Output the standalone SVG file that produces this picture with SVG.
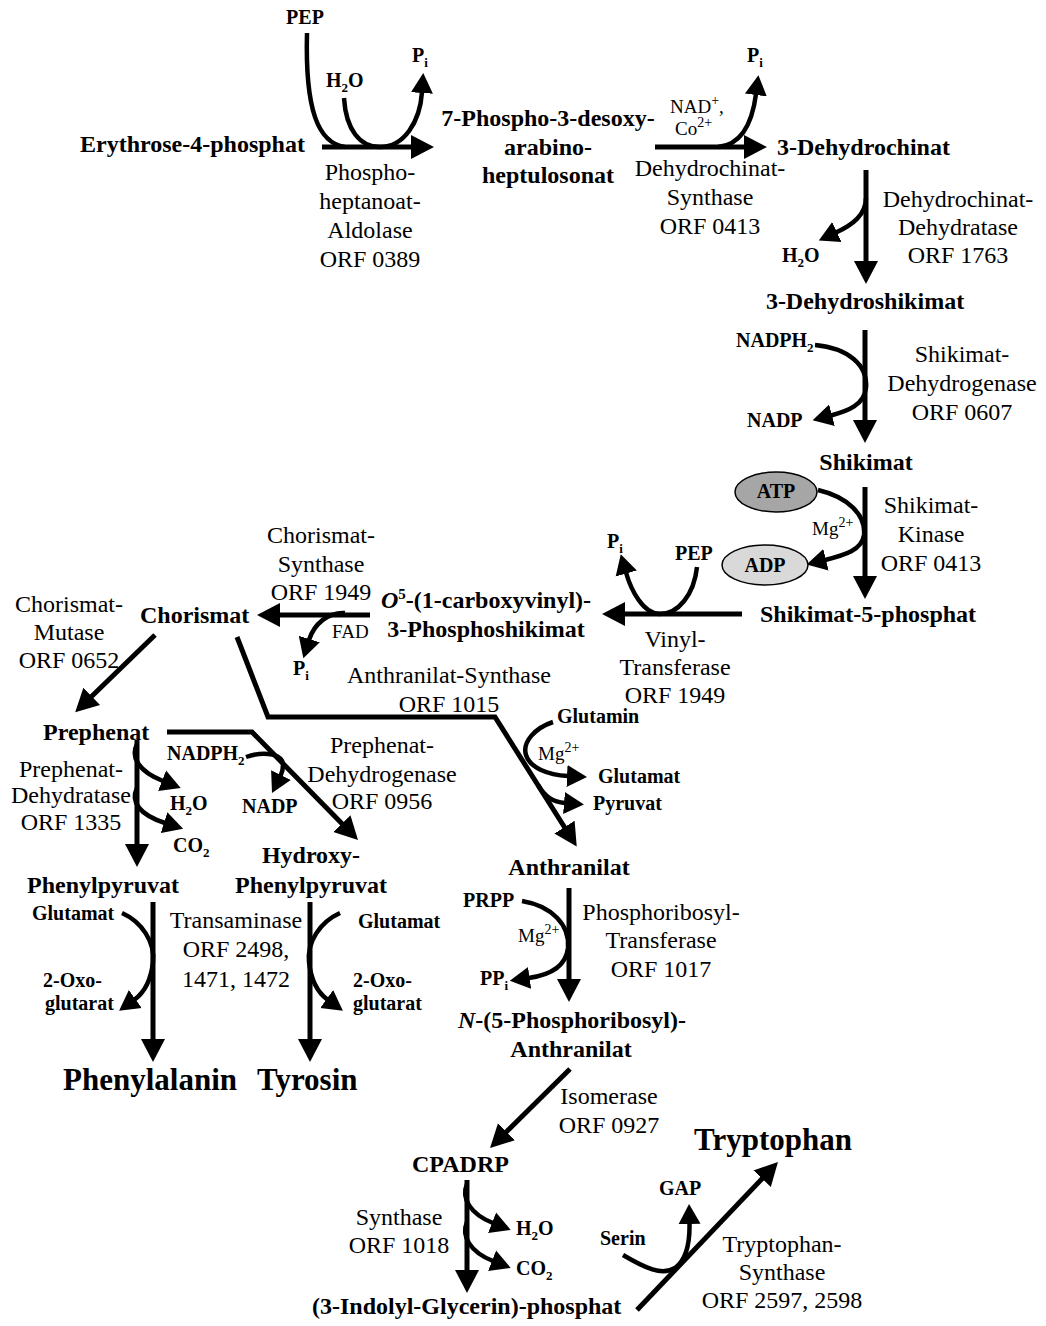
<svg xmlns="http://www.w3.org/2000/svg" width="1046" height="1326" viewBox="0 0 1046 1326">
<style>
text { font-family: 'Liberation Serif', 'Times New Roman', serif; fill: #000; }
.c { font-size: 24px; font-weight: bold; }
.cm { font-size: 24px; font-weight: bold; text-anchor: middle; }
.e { font-size: 24px; text-anchor: middle; }
.s { font-size: 20px; font-weight: bold; }
.sm { font-size: 20px; font-weight: bold; text-anchor: middle; }
.r { font-size: 19px; }
.big { font-size: 31px; font-weight: bold; }
.sub { font-size: 13px; }
.sup { font-size: 14px; }
.ln { fill: none; stroke: #000; stroke-width: 5; }
.cv { fill: none; stroke: #000; stroke-width: 4.5; }
.main { marker-end: url(#head); }
.side { marker-end: url(#tip); }
</style>
<defs>
  <marker id="head" markerUnits="userSpaceOnUse" markerWidth="24" markerHeight="26" viewBox="0 0 24 26" refX="1" refY="13" orient="auto">
    <path d="M0,1 L23,13 L0,25 z" fill="#000"/>
  </marker>
  <marker id="tip" markerUnits="userSpaceOnUse" markerWidth="21" markerHeight="24" viewBox="0 0 21 24" refX="1" refY="12" orient="auto">
    <path d="M0,1 L20,12 L0,23 z" fill="#000"/>
  </marker>
</defs>
<rect width="1046" height="1326" fill="#fff"/>

<!-- connectors: main reaction arrows and cofactor side arrows -->
<g id="connectors">
  <!-- Erythrose-4-phosphat -> 7-Phospho-3-desoxy-arabino-heptulosonat -->
  <path class="ln main" d="M322,147 H412"/>
  <path class="cv" d="M307,33 C305,110 318,143 345,147"/>
  <path class="cv side" d="M344,98 C346,130 360,147 380,147 C404,147 420,122 422,92"/>
  <!-- -> 3-Dehydrochinat -->
  <path class="ln main" d="M655,147 H745"/>
  <path class="cv side" d="M718,147 C740,145 752,125 756,94"/>
  <!-- -> 3-Dehydroshikimat -->
  <path class="ln main" d="M866,170 V262"/>
  <path class="cv side" d="M866,198 C866,215 852,225 836,232.5"/>
  <!-- -> Shikimat -->
  <path class="ln main" d="M865,330 V421"/>
  <path class="cv side" d="M815,345 C848,348 868,365 866,388 C864,405 848,411 831,415.5"/>
  <!-- -> Shikimat-5-phosphat -->
  <path class="ln main" d="M865,487 V577"/>
  <path class="cv side" d="M818,490 C848,497 866,515 864,535 C862,550 845,555 825,560"/>
  <!-- -> O5-(1-carboxyvinyl)-3-Phosphoshikimat -->
  <path class="ln main" d="M742,614 H624"/>
  <path class="cv side" d="M697,567 C694,595 678,614 660,614 C643,614 631,590 626,572.5"/>
  <!-- -> Chorismat -->
  <path class="ln main" d="M370,615 H279"/>
  <path class="cv side" d="M345,613 C328,612 314,624 309,640"/>
  <!-- Chorismat -> Prephenat -->
  <path class="ln main" d="M155,635 L91,697"/>
  <!-- Chorismat -> Anthranilat -->
  <path class="ln main" d="M237,637 L268,717 L495,717 L565,828"/>
  <path class="cv side" d="M553,722 C535,728 522,742 526,755 C530,768 548,775 568,776"/>
  <path class="cv side" d="M538,785 C545,797 553,802 565,803"/>
  <!-- Prephenat -> Hydroxy-Phenylpyruvat -->
  <path class="ln main" d="M167,732 L252,732 L342.6,824.3"/>
  <path class="cv side" d="M246,757 C266,750 284,755 283,765 C283,770 282,773 280.5,776"/>
  <!-- Prephenat -> Phenylpyruvat -->
  <path class="ln main" d="M137,740 V845"/>
  <path class="cv side" d="M137,744 C130,758 140,772 163,781"/>
  <path class="cv side" d="M137,788 C130,802 140,815 165,823"/>
  <!-- Phenylpyruvat -> Phenylalanin -->
  <path class="ln main" d="M153,902 V1040"/>
  <path class="cv side" d="M122,913 C142,922 155,942 153,962 C151,980 145,992 134.5,999.6"/>
  <!-- Hydroxy-Phenylpyruvat -> Tyrosin -->
  <path class="ln main" d="M310,902 V1040"/>
  <path class="cv side" d="M340,913 C320,922 307,942 309,962 C311,980 317,992 327.5,999.6"/>
  <!-- Anthranilat -> N-(5-Phosphoribosyl)-Anthranilat -->
  <path class="ln main" d="M569,888 V980"/>
  <path class="cv side" d="M522,901 C552,906 570,925 568,948 C566,966 550,975 528.6,978"/>
  <!-- -> CPADRP -->
  <path class="ln main" d="M570,1069 L505.7,1132.5"/>
  <!-- CPADRP -> (3-Indolyl-Glycerin)-phosphat -->
  <path class="ln main" d="M467,1180 V1271"/>
  <path class="cv side" d="M467,1184 C461,1198 470,1214 493,1223"/>
  <path class="cv side" d="M467,1222 C461,1236 470,1252 493,1261"/>
  <!-- -> Tryptophan -->
  <path class="ln main" d="M637,1310 L762.8,1178"/>
  <path class="cv side" d="M623,1255 C645,1268 662,1276 675,1268 C686,1260 690,1245 689.5,1223"/>
</g>

<!-- pathway compounds -->
<g id="erythrose-4-phosphat"><text class="c" x="80" y="152">Erythrose-4-phosphat</text></g>
<g id="phospho-desoxy-heptulosonat">
  <text class="cm" x="548" y="126">7-Phospho-3-desoxy-</text>
  <text class="cm" x="548" y="155">arabino-</text>
  <text class="cm" x="548" y="183">heptulosonat</text>
</g>
<g id="dehydrochinat"><text class="c" x="777" y="155">3-Dehydrochinat</text></g>
<g id="dehydroshikimat"><text class="cm" x="865" y="309">3-Dehydroshikimat</text></g>
<g id="shikimat"><text class="cm" x="866" y="470">Shikimat</text></g>
<g id="shikimat-5-phosphat"><text class="c" x="760" y="622">Shikimat-5-phosphat</text></g>
<g id="carboxyvinyl-phosphoshikimat">
  <text class="cm" x="486" y="608"><tspan font-style="italic">O</tspan><tspan font-size="15" dy="-9">5</tspan><tspan dy="9">-(1-carboxyvinyl)-</tspan></text>
  <text class="cm" x="486" y="637">3-Phosphoshikimat</text>
</g>
<g id="chorismat"><text class="c" x="140" y="623">Chorismat</text></g>
<g id="prephenat"><text class="c" x="43" y="740">Prephenat</text></g>
<g id="phenylpyruvat"><text class="c" x="27" y="893">Phenylpyruvat</text></g>
<g id="hydroxy-phenylpyruvat">
  <text class="cm" x="311" y="863">Hydroxy-</text>
  <text class="cm" x="311" y="893">Phenylpyruvat</text>
</g>
<g id="phenylalanin"><text class="big" x="63" y="1090">Phenylalanin</text></g>
<g id="tyrosin"><text class="big" x="257" y="1090">Tyrosin</text></g>
<g id="anthranilat"><text class="cm" x="569" y="875">Anthranilat</text></g>
<g id="phosphoribosyl-anthranilat">
  <text class="cm" x="572" y="1028"><tspan font-style="italic">N</tspan>-(5-Phosphoribosyl)-</text>
  <text class="cm" x="571" y="1057">Anthranilat</text>
</g>
<g id="cpadrp"><text class="c" x="412" y="1172">CPADRP</text></g>
<g id="indolyl-glycerin-phosphat"><text class="c" x="312" y="1314">(3-Indolyl-Glycerin)-phosphat</text></g>
<g id="tryptophan"><text class="big" x="694" y="1150">Tryptophan</text></g>

<!-- enzymes -->
<g id="enz-aldolase">
  <text class="e" x="370" y="180">Phospho-</text>
  <text class="e" x="370" y="209">heptanoat-</text>
  <text class="e" x="370" y="238">Aldolase</text>
  <text class="e" x="370" y="267">ORF 0389</text>
</g>
<g id="enz-dhq-synthase">
  <text class="e" x="710" y="176">Dehydrochinat-</text>
  <text class="e" x="710" y="205">Synthase</text>
  <text class="e" x="710" y="234">ORF 0413</text>
</g>
<g id="enz-dhq-dehydratase">
  <text class="e" x="958" y="207">Dehydrochinat-</text>
  <text class="e" x="958" y="235">Dehydratase</text>
  <text class="e" x="958" y="263">ORF 1763</text>
</g>
<g id="enz-shikimat-dh">
  <text class="e" x="962" y="362">Shikimat-</text>
  <text class="e" x="962" y="391">Dehydrogenase</text>
  <text class="e" x="962" y="420">ORF 0607</text>
</g>
<g id="enz-shikimat-kinase">
  <text class="e" x="931" y="513">Shikimat-</text>
  <text class="e" x="931" y="542">Kinase</text>
  <text class="e" x="931" y="571">ORF 0413</text>
</g>
<g id="enz-vinyltransferase">
  <text class="e" x="675" y="647">Vinyl-</text>
  <text class="e" x="675" y="675">Transferase</text>
  <text class="e" x="675" y="703">ORF 1949</text>
</g>
<g id="enz-chorismat-synthase">
  <text class="e" x="321" y="543">Chorismat-</text>
  <text class="e" x="321" y="572">Synthase</text>
  <text class="e" x="321" y="600">ORF 1949</text>
</g>
<g id="enz-chorismat-mutase">
  <text class="e" x="69" y="612">Chorismat-</text>
  <text class="e" x="69" y="640">Mutase</text>
  <text class="e" x="69" y="668">ORF 0652</text>
</g>
<g id="enz-anthranilat-synthase">
  <text class="e" x="449" y="683">Anthranilat-Synthase</text>
  <text class="e" x="449" y="712">ORF 1015</text>
</g>
<g id="enz-prephenat-dh">
  <text class="e" x="382" y="753">Prephenat-</text>
  <text class="e" x="382" y="782">Dehydrogenase</text>
  <text class="e" x="382" y="809">ORF 0956</text>
</g>
<g id="enz-prephenat-dehydratase">
  <text class="e" x="71" y="777">Prephenat-</text>
  <text class="e" x="71" y="803">Dehydratase</text>
  <text class="e" x="71" y="830">ORF 1335</text>
</g>
<g id="enz-transaminase">
  <text class="e" x="236" y="928">Transaminase</text>
  <text class="e" x="236" y="957">ORF 2498,</text>
  <text class="e" x="236" y="987">1471, 1472</text>
</g>
<g id="enz-prt">
  <text class="e" x="661" y="920">Phosphoribosyl-</text>
  <text class="e" x="661" y="948">Transferase</text>
  <text class="e" x="661" y="977">ORF 1017</text>
</g>
<g id="enz-isomerase">
  <text class="e" x="609" y="1104">Isomerase</text>
  <text class="e" x="609" y="1133">ORF 0927</text>
</g>
<g id="enz-igp-synthase">
  <text class="e" x="399" y="1225">Synthase</text>
  <text class="e" x="399" y="1253">ORF 1018</text>
</g>
<g id="enz-trp-synthase">
  <text class="e" x="782" y="1252">Tryptophan-</text>
  <text class="e" x="782" y="1280">Synthase</text>
  <text class="e" x="782" y="1308">ORF 2597, 2598</text>
</g>

<!-- cofactors, co-substrates and by-products -->
<g id="cofactors">
  <text class="sm" x="305" y="24">PEP</text>
  <text class="s" x="326" y="87">H<tspan class="sub" dy="5">2</tspan><tspan dy="-5">O</tspan></text>
  <text class="s" x="412" y="62">P<tspan class="sub" dy="5">i</tspan></text>
  <text class="s" x="747" y="62">P<tspan class="sub" dy="5">i</tspan></text>
  <text class="r" x="670" y="113">NAD<tspan class="sup" dy="-8">+</tspan><tspan dy="8">,</tspan></text>
  <text class="r" x="675" y="135">Co<tspan class="sup" dy="-8">2+</tspan></text>
  <text class="s" x="782" y="262">H<tspan class="sub" dy="5">2</tspan><tspan dy="-5">O</tspan></text>
  <text class="s" x="736" y="347">NADPH<tspan class="sub" dy="5">2</tspan></text>
  <text class="s" x="747" y="427">NADP</text>
  <g id="atp">
    <ellipse cx="776" cy="492" rx="41" ry="20" fill="#a6a6a6" stroke="#000" stroke-width="1.5"/>
    <text class="sm" x="776" y="498">ATP</text>
  </g>
  <g id="adp">
    <ellipse cx="765" cy="565" rx="43" ry="20" fill="#d9d9d9" stroke="#000" stroke-width="1.5"/>
    <text class="sm" x="765" y="572">ADP</text>
  </g>
  <text class="r" x="812" y="535">Mg<tspan class="sup" dy="-8">2+</tspan></text>
  <text class="s" x="675" y="560">PEP</text>
  <text class="s" x="607" y="548">P<tspan class="sub" dy="5">i</tspan></text>
  <text class="r" x="332" y="638">FAD</text>
  <text class="s" x="293" y="675">P<tspan class="sub" dy="5">i</tspan></text>
  <text class="s" x="557" y="723">Glutamin</text>
  <text class="r" x="538" y="760">Mg<tspan class="sup" dy="-8">2+</tspan></text>
  <text class="s" x="598" y="783">Glutamat</text>
  <text class="s" x="593" y="810">Pyruvat</text>
  <text class="s" x="167" y="760">NADPH<tspan class="sub" dy="5">2</tspan></text>
  <text class="s" x="242" y="813">NADP</text>
  <text class="s" x="170" y="810">H<tspan class="sub" dy="5">2</tspan><tspan dy="-5">O</tspan></text>
  <text class="s" x="173" y="852">CO<tspan class="sub" dy="5">2</tspan></text>
  <text class="s" x="32" y="920">Glutamat</text>
  <text class="s" x="43" y="987">2-Oxo-</text>
  <text class="s" x="45" y="1010">glutarat</text>
  <text class="s" x="358" y="928">Glutamat</text>
  <text class="s" x="353" y="987">2-Oxo-</text>
  <text class="s" x="353" y="1010">glutarat</text>
  <text class="s" x="463" y="907">PRPP</text>
  <text class="r" x="518" y="942">Mg<tspan class="sup" dy="-8">2+</tspan></text>
  <text class="s" x="480" y="985">PP<tspan class="sub" dy="5">i</tspan></text>
  <text class="s" x="516" y="1235">H<tspan class="sub" dy="5">2</tspan><tspan dy="-5">O</tspan></text>
  <text class="s" x="516" y="1275">CO<tspan class="sub" dy="5">2</tspan></text>
  <text class="s" x="659" y="1195">GAP</text>
  <text class="s" x="600" y="1245">Serin</text>
</g>
</svg>
